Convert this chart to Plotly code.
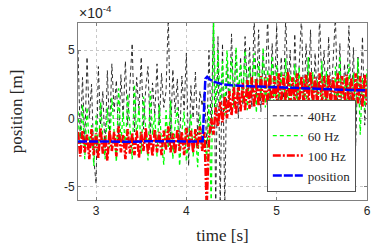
import numpy as np
import plotly.graph_objects as go

# sampling grid of the measured signals (s)
time_s = np.round(2.8 + 0.025 * np.arange(129), 3)

# values in units of 1e-4 m (axis shows x10^-4)
b40 = [5.0, -1.5, 3.0, -2.0, 4.5, 0.0, 2.5, -3.0,
       -4.8, 3.8, -0.5, 2.0, -2.5, 3.5, -1.0, 4.0,
       0.5, 2.8, -1.8, 3.2, 0.0, 4.2, -0.5, 2.5,
       5.5, -1.0, 3.0, 0.5, 4.5, -0.8, 2.2, 3.8,
       -1.2, 2.6, 0.2, 4.0, -0.5, 3.3, 0.8, 2.0,
       7.5, -1.5, 3.6, 0.4, 2.9, -2.0, 3.1, 0.6,
       4.8, -3.5, 2.4, 0.0, 3.4, -1.2, 2.0, 0.9,
       2.0, -2.0, 5.0, -1.0, 7.5, -6.5, 6.0, -6.5,
       5.5, -6.5, 4.0, 0.5, 6.2, 1.0, 5.0, 0.0,
       4.5, 1.0, 6.0, 2.0, 5.2, 0.8, 7.5, 1.5,
       6.5, 0.5, 4.8, 2.2, 7.5, 0.8, 5.5, 1.8,
       6.8, -0.5, 4.5, 1.2, 7.5, 2.0, 5.0, -1.0,
       6.2, 1.5, 4.0, 7.5, 0.5, 5.5, 2.0, 6.5,
       -0.8, 4.8, 1.2, 7.5, 2.5, 5.0, 0.0, 6.0,
       1.5, 4.2, 7.5, 0.8, 5.5, -1.5, 4.0, 2.0,
       6.8, 0.5, 5.2, -2.0, 4.5, 1.0, 6.0, -0.5,
       3.0]

g60 = [0.5, -2.5, 1.0, -3.0, 0.8, -2.0, -0.5, -3.5,
       0.2, -2.8, 1.2, -1.5, -3.0, 0.8, -2.2, 1.5,
       -1.0, -3.2, 2.2, -1.8, 0.5, -2.5, 1.8, -0.8,
       -3.0, 2.5, -1.5, 0.9, -2.6, 1.6, -0.5, -3.1,
       2.0, -1.2, 0.3, -2.8, 1.0, -1.9, -3.4, 0.6,
       -2.2, 1.3, -3.0, -0.5, 0.8, -3.5, -1.0, 0.5,
       -3.2, -1.5, 0.4, -2.8, -0.8, -3.6, 0.3, -2.0,
       -1.5, -3.0, 1.0, -6.5, 7.5, 0.5, 5.0, 1.0,
       4.2, 0.2, 5.0, 1.5, 4.5, 0.8, 5.2, 1.8,
       4.0, 1.2, 5.0, 0.6, 3.8, 1.8, 4.8, 0.4,
       4.2, 1.5, 5.2, 0.8, 3.6, 1.0, 4.6, 0.2,
       4.0, 1.2, 3.5, -0.5, 4.4, 0.8, 3.2, -1.0,
       4.0, 0.5, 3.8, -1.2, 3.0, 0.6, 4.5, -0.8,
       3.4, -1.5, 2.8, 0.0, 4.2, -1.0, 3.5, 0.4,
       2.6, -1.4, 3.8, 0.2, 4.6, -0.6, 3.0, 0.8,
       4.0, -1.0, 3.3, 0.5, 4.4, -1.2, 3.0, 0.6,
       3.6]

r100 = [-1.0, -2.8, -0.9, -2.5, -1.2, -3.0, -0.8, -2.7,
        -1.1, -2.9, -0.7, -2.6, -1.3, -3.1, -0.9, -2.4,
        -1.0, -2.8, -0.6, -2.5, -1.2, -3.0, -0.8, -2.6,
        -1.1, -2.7, -0.9, -2.9, -1.0, -2.4, -0.7, -2.6,
        -1.2, -2.8, -0.8, -2.5, -1.0, -2.7, -0.9, -2.3,
        -0.6, -2.5, -1.1, -2.6, -0.8, -2.4, -1.0, -2.7,
        -0.7, -2.3, -0.9, -2.5, -0.8, -2.2, -0.6, -2.4,
        -1.0, -6.5, -1.5, 0.0, -1.2, 0.8, -0.6, 1.2,
        -0.3, 1.6, 0.0, 2.0, 0.2, 2.3, 0.3, 2.5,
        0.5, 2.6, 0.6, 2.8, 0.7, 3.0, 0.8, 2.9,
        0.9, 3.1, 1.0, 3.0, 1.0, 3.2, 0.9, 3.1,
        1.1, 3.3, 1.0, 3.2, 1.2, 3.4, 0.9, 3.0,
        1.1, 3.3, 1.0, 3.1, 0.8, 3.2, 1.0, 3.4,
        1.1, 3.0, 0.9, 3.3, 1.2, 3.1, 0.8, 3.2,
        1.0, 3.0, 0.9, 3.3, 1.1, 3.1, 0.8, 3.2,
        1.0, 3.0, 0.9, 3.3, 1.1, 3.1, 0.8, 3.2,
        1.0]

pos_t = [2.8, 3.0, 3.2, 3.4, 3.6, 3.8, 4.0, 4.1, 4.18, 4.195, 4.21, 4.23,
         4.26, 4.3, 4.4, 4.5, 4.6, 4.8, 5.0, 5.2, 5.4, 5.6, 5.8, 6.0]
pos = [-1.7, -1.72, -1.7, -1.72, -1.68, -1.7, -1.72, -1.7, -1.68, 0.5, 2.9, 3.05,
       2.85, 2.7, 2.5, 2.42, 2.38, 2.33, 2.28, 2.22, 2.18, 2.12, 2.08, 2.05]

y_ticks = [-5, 0, 5]
y_ticktext = ["-5", "0", "5"]
x_ticks = [3, 4, 5, 6]

fig = go.Figure()
fig.add_trace(go.Scatter(x=time_s, y=b40, mode="lines", name="40Hz",
                         line=dict(color="#1a1a1a", width=0.9, dash="4px,3px")))
fig.add_trace(go.Scatter(x=time_s, y=g60, mode="lines", name="60 Hz",
                         line=dict(color="#00ff00", width=1.3, dash="4px,3px")))
fig.add_trace(go.Scatter(x=time_s, y=r100, mode="lines", name="100 Hz",
                         line=dict(color="#ff0000", width=2.5, dash="8px,2px,2px,2px")))
fig.add_trace(go.Scatter(x=pos_t, y=pos, mode="lines", name="position",
                         line=dict(color="#0000ff", width=2.5, dash="9px,2px")))

axis_common = dict(showline=True, linecolor="#808080", linewidth=1, mirror="ticks",
                   ticks="inside", ticklen=3, tickcolor="#808080",
                   showgrid=True, gridcolor="#c8c8c8", gridwidth=0.5, griddash="dot",
                   zeroline=False,
                   tickfont=dict(family="Liberation Sans", size=12, color="#262626"))

fig.update_xaxes(range=[2.8, 6.0], tickvals=x_ticks,
                 title=dict(text="time [s]", standoff=11,
                            font=dict(family="Liberation Serif", size=17, color="#262626")),
                 **axis_common)
fig.update_yaxes(range=[-6, 7], tickvals=y_ticks, ticktext=y_ticktext,
                 title=dict(text="position [m]", standoff=36,
                            font=dict(family="Liberation Serif", size=17, color="#262626")),
                 **axis_common)

fig.add_annotation(xref="paper", yref="paper", x=0, y=1, xanchor="left", yanchor="bottom",
                   xshift=-1, yshift=0, showarrow=False,
                   text="×10<sup>-4</sup>",
                   font=dict(family="Liberation Sans", size=14, color="#262626"))

fig.update_layout(
    width=382, height=252,
    margin=dict(l=78, r=15, t=23, b=52),
    plot_bgcolor="white", paper_bgcolor="white",
    legend=dict(x=0.962, y=0.045, xanchor="right", yanchor="bottom",
                bgcolor="white", bordercolor="#262626", borderwidth=0.8,
                font=dict(family="Liberation Serif", size=13, color="#262626"),
                itemwidth=30, tracegroupgap=0),
)

fig.write_html("out.html", config={"displayModeBar": False},
               post_script="document.body.style.margin='0px';")
